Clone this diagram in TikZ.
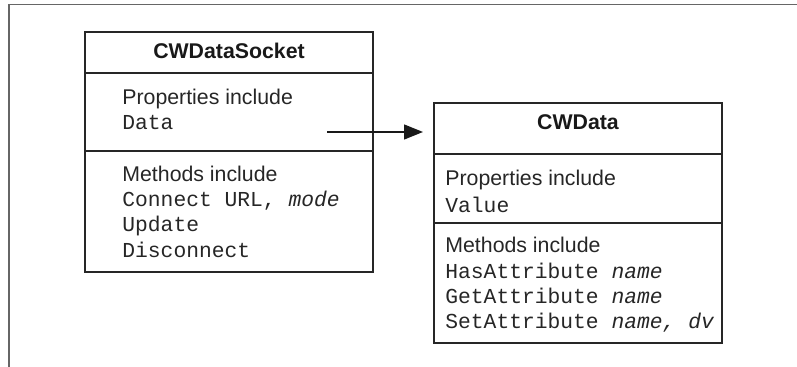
\documentclass[tikz,border=0pt]{standalone}
\usepackage{fontspec}
\setmainfont{Liberation Sans}
\setmonofont{Liberation Mono}
\usetikzlibrary{arrows.meta,positioning}

\begin{document}
\begin{tikzpicture}[
  x=0.5pt,y=-0.5pt,
  font=\fontsize{10.65}{12.65}\selectfont,
  node distance=0pt,
  part/.style={draw=black!85,line width=0.7pt,minimum width=144pt,
    inner sep=0pt,outer sep=0pt},
  head/.style={part,font=\fontsize{10.65}{12.65}\selectfont\bfseries,text=black!90},
  entry/.style={align=left,inner sep=0pt,text=black!85,anchor=west},
  arrow/.style={-{Triangle[length=9.5pt,width=7.5pt]},line width=0.65pt,black!90}
]
\useasboundingbox (0,0) rectangle (797,367);
% page frame
\draw[black!60,line width=0.7pt] (9,367) -- (9,4.3) -- (797,4.3);
% CWDataSocket class
\node[head,anchor=north west,minimum height=20.5pt,text depth=2pt] (socket) at (85,32) {CWDataSocket};
\node[part,below=of socket,minimum height=39pt] (socketprops) {};
\node[part,below=of socketprops,minimum height=60.5pt] (socketmeth) {};
\node[entry,yshift=1.3pt] (socketproptext) at ([xshift=18.5pt]socketprops.west)
  {Properties include\\\texttt{Data}};
\node[entry] (socketmethtext) at ([xshift=18.5pt]socketmeth.west)
  {Methods include\\\texttt{Connect URL, \textit{mode}}\\\texttt{Update}\\\texttt{Disconnect}};
% CWData class
\node[head,anchor=north west,minimum height=25.5pt,text depth=6pt] (data) at (434,103) {CWData};
\node[part,below=of data,minimum height=34.5pt] (dataprops) {};
\node[part,below=of dataprops,minimum height=60pt] (datameth) {};
\node[entry,yshift=-1.5pt] (dataproptext) at ([xshift=5.5pt]dataprops.west)
  {Properties include\\[1pt]\texttt{Value}};
\node[entry,yshift=-1pt] (datamethtext) at ([xshift=5.5pt]datameth.west)
  {Methods include\\\texttt{HasAttribute \textit{name}}\\\texttt{GetAttribute \textit{name}}\\\texttt{SetAttribute \textit{name, dv}}};
% link
\coordinate (datalink) at (327,132);
\draw[arrow,shorten >=5.5pt] (datalink) -- (datalink -| data.west);
\end{tikzpicture}
\end{document}
